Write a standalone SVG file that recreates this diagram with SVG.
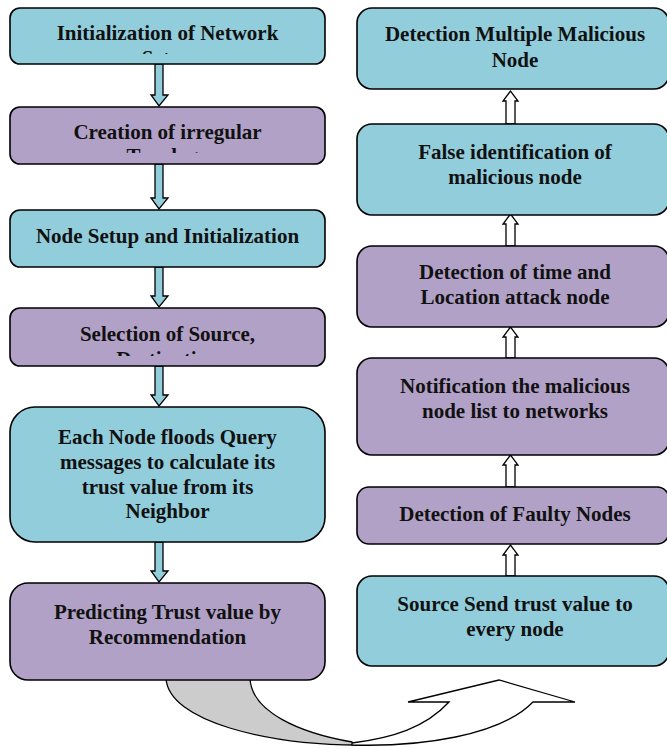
<svg xmlns="http://www.w3.org/2000/svg" width="667" height="748" viewBox="0 0 667 748">
<style>
.blue{fill:#92CDDC;stroke:#000;stroke-width:1.6}
.purple{fill:#B2A1C7;stroke:#000;stroke-width:1.6}
.t{font-family:"Liberation Serif","Times New Roman",serif;font-weight:bold;font-size:21px;fill:#111;text-anchor:middle}
.da{fill:#92CDDC;stroke:#000;stroke-width:1.3;stroke-linejoin:miter}
.ua{fill:#fff;stroke:#000;stroke-width:1.3;stroke-linejoin:miter}
.cv{stroke:#000;stroke-width:1.3;stroke-linejoin:miter}
</style>
<defs>
<clipPath id="c1"><rect x="10" y="8" width="316" height="46"/></clipPath>
<clipPath id="c2"><rect x="10" y="107" width="316" height="46"/></clipPath>
<clipPath id="c4"><rect x="10" y="308" width="316" height="48"/></clipPath>
</defs>
<g id="connectors">
<path class="cv" fill="#CCCCCC" d="M166,678 C168,722 270,745 358,745 L352,742 C300,733 251,712 250,678 Z"/>
<path class="cv" fill="#FFFFFF" d="M352,745 C420,747 500,736 533,702 L575,702 L499,680 L408,702 L449,702 C425,728 392,738 352,743 Z"/>
<path class="da" d="M155,64 L163,64 L163,95 L168,95 L159,106 L151,95 L155,95 Z"/>
<path class="da" d="M155,164 L163,164 L163,198 L168,198 L159,209 L151,198 L155,198 Z"/>
<path class="da" d="M155,267 L163,267 L163,296 L168,296 L159,307 L151,296 L155,296 Z"/>
<path class="da" d="M155,366 L163,366 L163,395 L168,395 L159,406 L151,395 L155,395 Z"/>
<path class="da" d="M155,542 L163,542 L163,571 L168,571 L159,582 L151,571 L155,571 Z"/>
<path class="ua" d="M506,124 L515,124 L515,101 L518,101 L510.5,91 L503,101 L506,101 Z"/>
<path class="ua" d="M506,246 L515,246 L515,224 L518,224 L510.5,214 L503,224 L506,224 Z"/>
<path class="ua" d="M506,358 L515,358 L515,337 L518,337 L510.5,327 L503,337 L506,337 Z"/>
<path class="ua" d="M506,487 L515,487 L515,465 L518,465 L510.5,455 L503,465 L506,465 Z"/>
<path class="ua" d="M506,576 L515,576 L515,555 L518,555 L510.5,545 L503,555 L506,555 Z"/>
</g>
<g id="n1">
<rect class="blue" x="10" y="8" width="315" height="56" rx="10"/>
<g clip-path="url(#c1)"><text class="t" x="167.5" y="40">Initialization of Network</text><text class="t" x="167.5" y="65">Setup</text></g>
</g>
<g id="n2">
<rect class="purple" x="10" y="107" width="315" height="57" rx="10"/>
<g clip-path="url(#c2)"><text class="t" x="167.5" y="139">Creation of irregular</text><text class="t" x="167.5" y="163">Topology</text></g>
</g>
<g id="n3">
<rect class="blue" x="10" y="210" width="315" height="57" rx="10"/>
<text class="t" x="167.5" y="243">Node Setup and Initialization</text>
</g>
<g id="n4">
<rect class="purple" x="10" y="308" width="315" height="58" rx="10"/>
<g clip-path="url(#c4)"><text class="t" x="167.5" y="341">Selection of Source,</text><text class="t" x="167.5" y="366">Destination</text></g>
</g>
<g id="n5">
<rect class="blue" x="10" y="407" width="315" height="135" rx="25"/>
<text class="t" x="167.5" y="444">Each Node floods Query</text>
<text class="t" x="167.5" y="469">messages to calculate its</text>
<text class="t" x="167.5" y="494">trust value from its</text>
<text class="t" x="167.5" y="518">Neighbor</text>
</g>
<g id="n6">
<rect class="purple" x="10" y="583" width="315" height="97" rx="18"/>
<text class="t" x="167.5" y="619">Predicting Trust value by</text>
<text class="t" x="167.5" y="644">Recommendation</text>
</g>
<g id="r1">
<rect class="blue" x="357" y="8" width="312" height="81" rx="15"/>
<text class="t" x="515" y="41">Detection Multiple Malicious</text>
<text class="t" x="515" y="67">Node</text>
</g>
<g id="r2">
<rect class="blue" x="357" y="124" width="312" height="91" rx="15"/>
<text class="t" x="515" y="159">False identification of</text>
<text class="t" x="515" y="184">malicious node</text>
</g>
<g id="r3">
<rect class="purple" x="357" y="246" width="312" height="81" rx="15"/>
<text class="t" x="515" y="279">Detection of time and</text>
<text class="t" x="515" y="304">Location attack node</text>
</g>
<g id="r4">
<rect class="purple" x="357" y="358" width="312" height="97" rx="15"/>
<text class="t" x="515" y="393">Notification the malicious</text>
<text class="t" x="515" y="418">node list to networks</text>
</g>
<g id="r5">
<rect class="purple" x="357" y="487" width="312" height="57" rx="12"/>
<text class="t" x="515" y="521">Detection of Faulty Nodes</text>
</g>
<g id="r6">
<rect class="blue" x="357" y="576" width="312" height="90" rx="15"/>
<text class="t" x="515" y="611">Source Send trust value to</text>
<text class="t" x="515" y="636">every node</text>
</g>
</svg>
